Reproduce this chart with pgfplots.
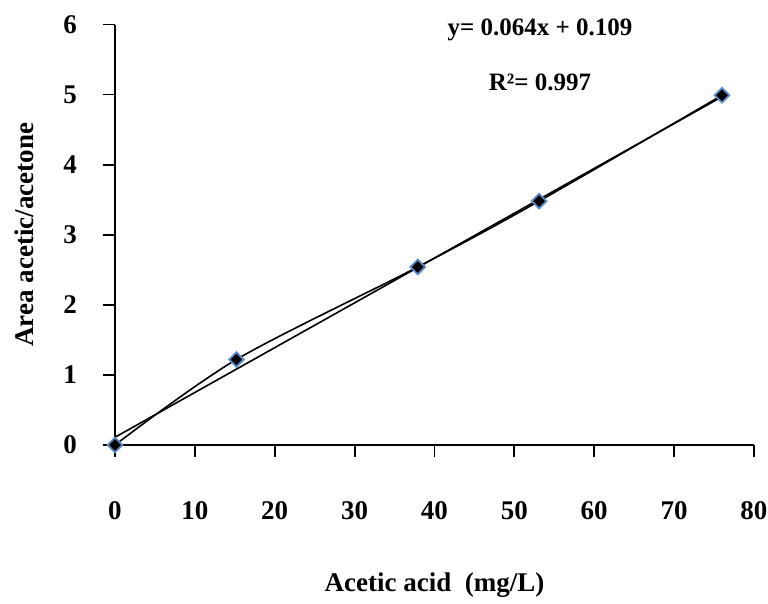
\documentclass[border=0pt]{standalone}
\usepackage{fontspec}
\setmainfont{Liberation Serif}
\usepackage{pgfplots}
\pgfplotsset{compat=1.18}
\definecolor{mkedge}{HTML}{5B8DC8}

\begin{document}
\begin{tikzpicture}
% fix the page to the reference's 768x604 frame (1px = 0.5pt)
\useasboundingbox (-57.5pt,-79.5pt) rectangle (326.5pt,222.5pt);
\begin{axis}[
  scale only axis,
  width=319.5pt, height=210.25pt,
  xmin=0, xmax=80, ymin=0, ymax=6,
  axis lines*=left,
  axis line style={line width=1pt, -},
  xtick={0,10,...,80}, ytick={0,1,...,6},
  tick align=outside,
  major tick length=6pt,
  tick style={line width=0.9pt, black},
  font=\fontsize{13.5}{15}\selectfont\bfseries,
  /pgf/number format/assume math mode=true,
  xticklabel style={anchor=north, yshift=-18.5pt},
  yticklabel style={anchor=east, xshift=-9.5pt},
  xlabel={Acetic acid\ \ (mg/L)},
  ylabel={Area acetic/acetone},
  xlabel style={at={(axis description cs:0.5,0)}, anchor=center, yshift=-70pt},
  ylabel style={at={(axis description cs:0,0.5)}, anchor=center, rotate=0, xshift=0pt, yshift=45.5pt},
  clip=false,
]
% linear trend line
\addplot[black, line width=0.8pt, mark=none] coordinates {(0,0.11) (76,4.97)};
% smoothed data line with markers
\addplot[black, line width=0.8pt, smooth, mark=square*,
  mark size=2.6pt,
  mark options={rotate=45, fill=black, draw=mkedge, line width=0.9pt, solid}]
  coordinates {(0,0) (15.2,1.22) (37.9,2.54) (53.1,3.48) (76,4.99)};
\node[font=\fontsize{12.5}{14}\selectfont\bfseries] at (axis cs:53.2,5.92) {y= 0.064x\ + 0.109};
\node[font=\fontsize{12.5}{14}\selectfont\bfseries] at (axis cs:53.2,5.18) {R²= 0.997};
\end{axis}
\end{tikzpicture}
\end{document}
